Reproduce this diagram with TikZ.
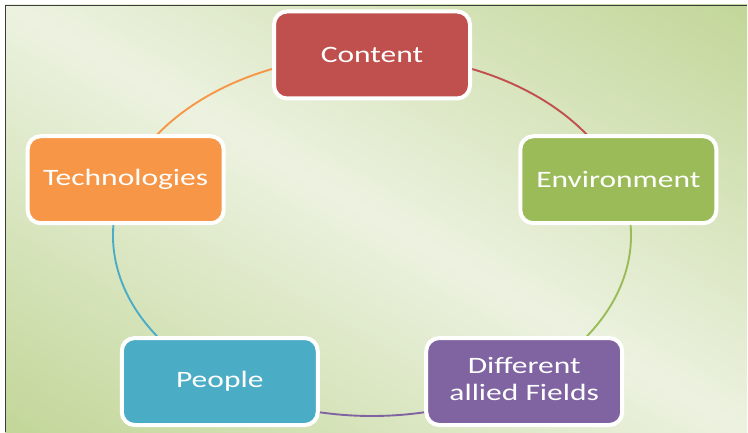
\documentclass[tikz,border=0pt]{standalone}
\usepackage{fontspec}
\setmainfont{Carlito}
\usetikzlibrary{calc}
\definecolor{bgdark}{RGB}{194,214,152}
\definecolor{bglight}{RGB}{236,242,224}
\definecolor{cred}{HTML}{C0504D}
\definecolor{cgreen}{HTML}{9BBB59}
\definecolor{cpurple}{HTML}{8064A2}
\definecolor{cblue}{HTML}{4BACC6}
\definecolor{corange}{HTML}{F79646}
\definecolor{frameline}{RGB}{60,60,60}
\tikzset{
  cyclebox/.style={draw=white, line width=4pt, rounded corners=13pt,
    minimum width=196pt, minimum height=87pt, inner sep=0pt,
    text=white, align=center, font=\fontsize{23.5}{27}\selectfont},
  cyclearc/.style={line width=1.9pt}
}
\newcommand{\wide}[1]{\scalebox{1.34}[1]{#1}}
\begin{document}
\begin{tikzpicture}[x=1pt,y=1pt]
\useasboundingbox (0,0) rectangle (748,432);
\fill[white] (0,0) rectangle (748,432);
% background gradient
\begin{scope}
  \clip (5,0) rectangle (747,427);
  \begin{scope}[transform canvas={rotate around={-30:(374,216)}}]
    \shade[top color=bgdark, bottom color=bgdark, middle color=bglight]
      (-200,-158) rectangle (948,590);
  \end{scope}
\end{scope}
\draw[frameline, line width=1.6pt] (5.5,0) -- (5.5,426.5) -- (746.5,426.5);
% node positions on the ellipse
\begin{scope}[shift={(372,196.5)}]
  \coordinate (pC) at (90:259 and 180.5);
  \coordinate (pE) at (18:259 and 180.5);
  \coordinate (pD) at (-54:259 and 180.5);
  \coordinate (pP) at (-126:259 and 180.5);
  \coordinate (pT) at (162:259 and 180.5);
\end{scope}
% connectors
\draw[cyclearc, cred] (pC) arc[start angle=90, end angle=18, x radius=259, y radius=180.5];
\draw[cyclearc, cgreen] (pE) arc[start angle=18, end angle=-54, x radius=259, y radius=180.5];
\draw[cyclearc, cpurple] (pD) arc[start angle=-54, end angle=-126, x radius=259, y radius=180.5];
\draw[cyclearc, cblue] (pP) arc[start angle=-126, end angle=-198, x radius=259, y radius=180.5];
\draw[cyclearc, corange] (pT) arc[start angle=162, end angle=90, x radius=259, y radius=180.5];
% nodes
\node[cyclebox, fill=cred] (content) at (pC) {\wide{Content}};
\node[cyclebox, fill=cgreen] (environment) at (pE) {\wide{Environment}};
\node[cyclebox, fill=cpurple] (fields) at (pD) {\wide{\begin{tabular}{@{}c@{}}Different\\allied Fields\end{tabular}}};
\node[cyclebox, fill=cblue] (people) at (pP) {\wide{People}};
\node[cyclebox, fill=corange] (technologies) at (pT) {\wide{Technologies}};
\end{tikzpicture}
\end{document}
